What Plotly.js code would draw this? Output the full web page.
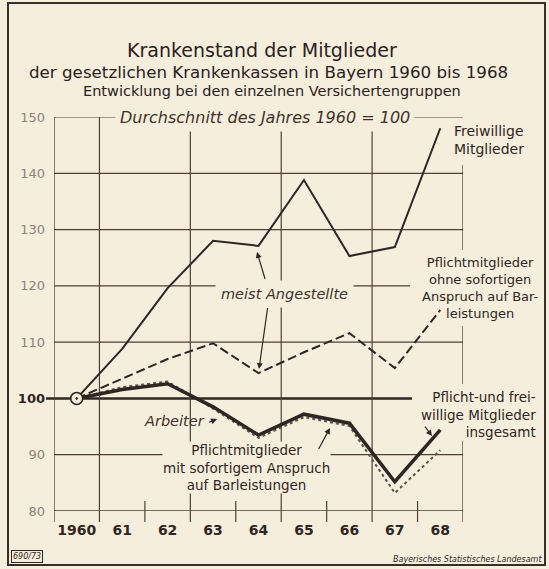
<!DOCTYPE html>
<html>
<head>
<meta charset="utf-8">
<script src="https://cdn.plot.ly/plotly-3.0.1.min.js"></script>
<style>
html,body{margin:0;padding:0;background:#f6eedd;}
#frame{position:absolute;left:7px;top:2px;width:539px;height:564px;border:2px solid #3a2f28;box-sizing:border-box;}
#chart{position:absolute;left:0;top:0;width:549px;height:569px;}
</style>
</head>
<body>
<div id="frame"></div>
<div id="chart"></div>
<script>
// ---- data ----
const years = ['1960','61','62','63','64','65','66','67','68'];
const freiwillige  = [100, 108.8, 119.6, 128.0, 127.1, 138.8, 125.3, 126.9, 148.0];
const ohneAnspruch = [100, 103.5, 107.0, 109.8, 104.5, 108.2, 111.6, 105.4, 115.7];
const insgesamt    = [100, 101.6, 102.6, 98.5, 93.5, 97.2, 95.6, 85.2, 94.4];
const mitAnspruch  = [100, 102.0, 103.0, 98.2, 93.0, 96.7, 95.1, 83.2, 90.8];
const yTicks = [80, 90, 100, 110, 120, 130, 140, 150];

// ---- styles ----
const BG = '#f6eedd';
const INK = '#2f2621';
const GRID = '#4e4036';
const FONT = 'DejaVu Sans, sans-serif';
const L = 54, R = 463, T = 117, B = 511;
const W = R - L, H = B - T;
const px = xp => (xp - L) / W;
const py = yp => (B - yp) / H;

const xi = years.map((_, i) => i);

const traces = [
  {x: xi, y: mitAnspruch, mode: 'lines', line: {color: '#5e5148', width: 2, dash: 'dot'}},
  {x: xi, y: insgesamt, mode: 'lines', line: {color: INK, width: 3.5}},
  {x: xi, y: ohneAnspruch, mode: 'lines', line: {color: INK, width: 2, dash: '9px,4px'}},
  {x: xi, y: freiwillige, mode: 'lines', line: {color: INK, width: 2}},
  {x: [xi[0]], y: [insgesamt[0]], mode: 'markers',
   marker: {symbol: 'circle-dot', size: 12, color: BG, line: {color: INK, width: 1.6}}}
];

// ---- grid shapes ----
const shapes = [];
const below = py(522);
function hline(v, x1p, w, c) {
  shapes.push({type: 'line', xref: 'paper', yref: 'y', x0: 0, x1: x1p, y0: v, y1: v,
               line: {color: c || GRID, width: w || 1.2}, layer: 'below'});
}
function vline(xv, y0p, y1p, w) {
  shapes.push({type: 'line', xref: 'x', yref: 'paper', x0: xv, x1: xv, y0: y0p, y1: y1p,
               line: {color: GRID, width: w || 1.2}, layer: 'below'});
}
yTicks.filter(v => v !== 80 && v !== 100).forEach(v => hline(v, v === 120 ? px(410) : 1));
hline(80, 1, 1.5);
shapes.push({type: 'line', xref: 'paper', yref: 'y', x0: px(46), x1: px(412), y0: 100, y1: 100,
             line: {color: INK, width: 2.6}, layer: 'below'});
for (let i = 0; i < xi.length - 1; i++) {
  vline(i + 0.5, (i % 2 === 0) ? 1 : py(501), below);
}
vline(-0.5, 1, below, 1.3);
const last = xi.length - 0.5;
vline(last, py(165), py(250), 1.3);
vline(last, py(326), py(384), 1.3);
vline(last, py(441), below, 1.3);

// ---- texts ----
const texts = [], arrows = [];
function txt(text, xp, yp, size, o) {
  o = o || {};
  texts.push(Object.assign({
    xref: 'paper', yref: 'paper', x: px(xp), y: py(yp), text: text, showarrow: false,
    xanchor: o.xanchor || 'center', yanchor: 'middle', align: o.align || 'center',
    borderpad: o.pad == null ? 0 : o.pad,
    bgcolor: o.mask ? BG : 'rgba(0,0,0,0)',
    font: {family: FONT, size: size, color: o.color || INK}
  }, o.extra || {}));
}
function arrow(x0, y0, x1, y1) {
  arrows.push({xref: 'paper', yref: 'paper', x: px(x1), y: py(y1), ax: x0 - x1, ay: y0 - y1,
            text: ' ', showarrow: true, arrowhead: 2, arrowsize: 1, arrowwidth: 1.2,
            arrowcolor: INK, standoff: 0, startstandoff: 0, font: {size: 2}});
}

txt('Krankenstand der Mitglieder', 262, 50, 19, {color: '#2a211c'});
txt('der gesetzlichen Krankenkassen in Bayern 1960 bis 1968', 268, 72, 16.7, {color: '#2a211c'});
txt('Entwicklung bei den einzelnen Versichertengruppen', 272, 90.5, 14.5, {color: '#2a211c'});

txt('<i>Durchschnitt des Jahres 1960 = 100</i>', 265, 118, 16, {mask: true, pad: 4, color: '#3f332b'});

txt('Freiwillige<br>Mitglieder', 453, 139.5, 14, {xanchor: 'left', align: 'left'});

txt('Pflichtmitglieder<br>ohne sofortigen<br>Anspruch auf Bar-<br>leistungen', 480, 287.5, 13);

txt('Pflicht-und frei-<br>willige Mitglieder<br>insgesamt', 537, 414, 13.5, {xanchor: 'right', align: 'right'});

txt('<i>meist Angestellte</i>', 284, 294, 14.5, {mask: true, pad: 5, color: '#3f332b'});
arrow(266, 282, 257, 252);
arrow(268, 305, 259, 369);

txt('<i>Arbeiter</i>', 174, 421, 14.5, {color: '#3f332b'});
arrow(207, 423, 217, 419);

txt('Pflichtmitglieder<br>mit sofortigem Anspruch<br>auf Barleistungen', 246, 467.5, 13.5, {mask: true});
arrow(317, 452, 330, 428);

arrow(423, 424, 432, 436);

txt('<i>690/73</i>', 27, 556, 8, {pad: 1, extra: {bordercolor: INK, borderwidth: 1}});
txt('<i>Bayerisches Statistisches Landesamt</i>', 543, 559, 8, {xanchor: 'right'});

const yText = yTicks.map(v => v === 100
  ? '<b><span style="color:#2f2621">' + v + '</span></b>'
  : '<span style="color:#8d8378">' + v + '</span>');

const layout = {
  width: 549, height: 569,
  margin: {l: L, r: 549 - R, t: T, b: 569 - B, pad: 0},
  paper_bgcolor: 'rgba(0,0,0,0)', plot_bgcolor: 'rgba(0,0,0,0)',
  showlegend: false,
  xaxis: {range: [-0.5, xi.length - 0.5], tickvals: xi, ticktext: years, showgrid: false,
          zeroline: false, showline: false, ticks: '', ticklabelstandoff: 9,
          tickfont: {family: FONT, size: 14, color: INK, weight: 'bold'}, fixedrange: true},
  yaxis: {range: [80, 150], tickvals: yTicks, ticktext: yText, showgrid: false,
          zeroline: false, showline: false, ticks: '', ticklabelstandoff: 8,
          tickfont: {family: FONT, size: 13, color: '#8d8378'}, fixedrange: true},
  shapes: shapes,
  annotations: texts.concat(arrows)
};

Plotly.newPlot('chart', traces, layout, {staticPlot: true, displayModeBar: false});
</script>
</body>
</html>
